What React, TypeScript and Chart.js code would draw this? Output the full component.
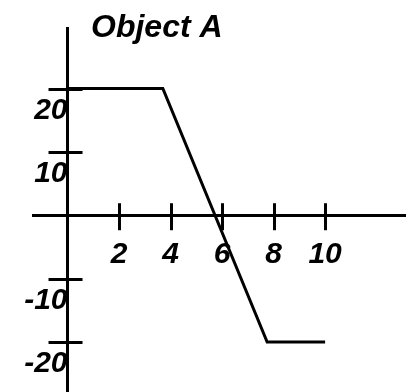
import React, { useEffect, useRef } from "react";
import { Chart, registerables } from "chart.js";

Chart.register(...registerables);

const TITLE = "Object A";
const xValues = [0, 3.7, 7.75, 10];
const yValues = [20, 20, -20, -20];
const xTickValues = [2, 4, 6, 8, 10];
const yTickValues = [-20, -10, 10, 20];
const X_MIN = -1.34;
const X_MAX = 13.14;
const Y_MIN = -27.9;
const Y_MAX = 29.55;

const FONT_FAMILY = "'Liberation Sans', Arial, sans-serif";

const crossTicksPlugin = {
  id: "crossTicks",
  afterDraw(chart: any) {
    const ctx = chart.ctx;
    const xs = chart.scales.x;
    const ys = chart.scales.y;
    const x0 = xs.getPixelForValue(0);
    const y0 = ys.getPixelForValue(0);
    ctx.save();
    ctx.strokeStyle = "#000";
    ctx.lineWidth = 3;
    ctx.lineCap = "butt";
    for (const v of xTickValues) {
      const px = Math.round(xs.getPixelForValue(v)) + 0.5;
      ctx.beginPath();
      ctx.moveTo(px, y0 - 12);
      ctx.lineTo(px, y0 + 15);
      ctx.stroke();
    }
    for (const v of yTickValues) {
      const py = Math.round(ys.getPixelForValue(v)) + 0.5;
      ctx.beginPath();
      ctx.moveTo(x0 - 19, py);
      ctx.lineTo(x0 + 15, py);
      ctx.stroke();
    }
    ctx.fillStyle = "#000";
    ctx.font = `italic bold 32px ${FONT_FAMILY}`;
    ctx.textAlign = "left";
    ctx.textBaseline = "alphabetic";
    ctx.fillText(TITLE, 91, 37);
    ctx.restore();
  },
};

const zeroPadding = (s: any) => {
  s.paddingTop = 0;
  s.paddingBottom = 0;
  s.paddingLeft = 0;
  s.paddingRight = 0;
};

export default function App() {
  const ref = useRef<HTMLCanvasElement | null>(null);
  useEffect(() => {
    if (!ref.current) return;
    const tickFont = { family: FONT_FAMILY, size: 30, weight: "bold" as const, style: "italic" as const };
    const chart = new Chart(ref.current, {
      type: "line",
      data: {
        datasets: [
          {
            data: xValues.map((x, i) => ({ x, y: yValues[i] })),
            borderColor: "#000",
            borderWidth: 3,
            pointRadius: 0,
            fill: false,
            tension: 0,
          },
        ],
      },
      options: {
        animation: false,
        responsive: false,
        devicePixelRatio: 1,
        layout: { padding: { left: 33, top: 28, right: 0, bottom: 0 } },
        plugins: { legend: { display: false }, tooltip: { enabled: false }, title: { display: false } },
        scales: {
          x: {
            type: "linear",
            min: X_MIN,
            max: X_MAX,
            position: { y: 0 } as any,
            afterBuildTicks: (s: any) => {
              s.ticks = xTickValues.map((value) => ({ value }));
            },
            afterFit: zeroPadding,
            grid: { display: true, drawOnChartArea: false, drawTicks: false },
            border: { display: true, color: "#000", width: 3 },
            ticks: { color: "#000", font: tickFont, padding: 22, maxRotation: 0, autoSkip: false },
          },
          y: {
            type: "linear",
            min: Y_MIN,
            max: Y_MAX,
            position: { x: 0 } as any,
            afterBuildTicks: (s: any) => {
              s.ticks = yTickValues.map((value) => ({ value }));
            },
            afterFit: zeroPadding,
            grid: { display: true, drawOnChartArea: false, drawTicks: false },
            border: { display: true, color: "#000", width: 3 },
            ticks: { color: "#000", font: tickFont, padding: 4, labelOffset: 22, autoSkip: false },
          },
        },
      },
      plugins: [crossTicksPlugin],
    });
    return () => chart.destroy();
  }, []);
  return (
    <div style={{ position: "absolute", left: 0, top: 0, width: 406, height: 392, background: "#fff" }}>
      <canvas ref={ref} width={406} height={392} style={{ display: "block", width: 406, height: 392 }} />
    </div>
  );
}
